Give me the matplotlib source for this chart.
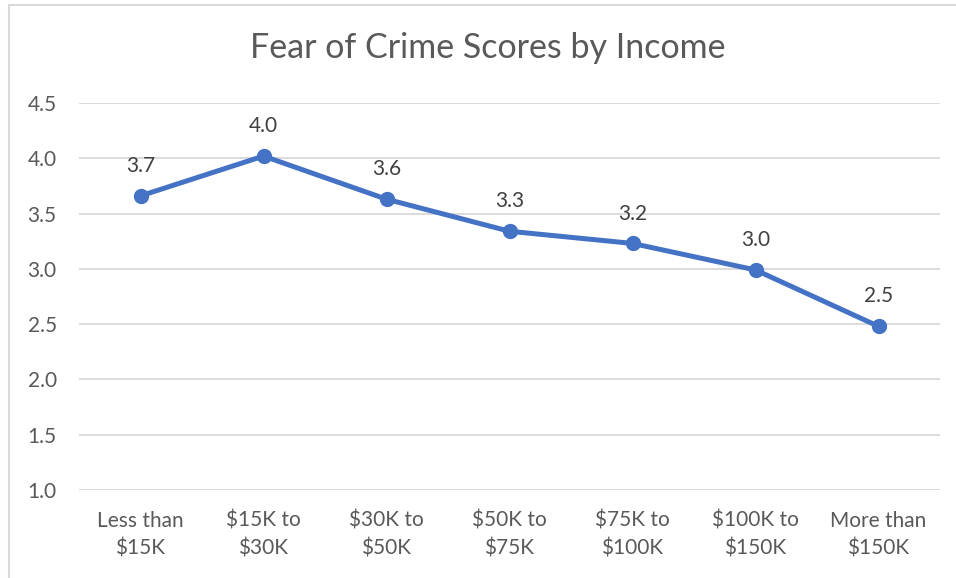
import matplotlib.pyplot as plt
from matplotlib.lines import Line2D

plt.rcParams['font.family'] = ['Lato', 'DejaVu Sans']

income_groups = ["Less than\n$15K", "$15K to\n$30K", "$30K to\n$50K", "$50K to\n$75K",
                 "$75K to\n$100K", "$100K to\n$150K", "More than\n$150K"]
fear_scores = [3.66, 4.02, 3.63, 3.34, 3.23, 2.99, 2.48]
y_ticks = [1.0, 1.5, 2.0, 2.5, 3.0, 3.5, 4.0, 4.5]

line_color = "#4472C4"
grid_color = "#D9D9D9"
text_color = "#595959"

fig = plt.figure(figsize=(9.56, 5.78), dpi=100)
ax = fig.add_axes([79 / 956, 1 - 490 / 578, (940 - 79) / 956, (490 - 103) / 578])

x = list(range(len(fear_scores)))
ax.plot(x, fear_scores, color=line_color, linewidth=3.6, marker="o",
        markersize=10, zorder=3, solid_capstyle="round")

for xi, v in zip(x, fear_scores):
    ax.annotate(f"{v:.1f}", (xi, v), xytext=(0, 21.5), textcoords="offset points",
                ha="center", va="center", fontsize=15, color="#404040")

ax.set_xlim(-0.5, len(fear_scores) - 0.5)
ax.set_ylim(1.0, 4.5)
ax.set_yticks(y_ticks)
ax.set_yticklabels([f"{t:.1f}" for t in y_ticks])
ax.set_xticks(x)
ax.set_xticklabels(income_groups, linespacing=1.45)
ax.grid(axis="y", color=grid_color, linewidth=1.3)
ax.set_axisbelow(True)
for s in ax.spines.values():
    s.set_visible(False)
ax.tick_params(length=0, labelsize=15, colors=text_color)
ax.tick_params(axis="y", pad=16)
ax.tick_params(axis="x", pad=15)

fig.suptitle("Fear of Crime Scores by Income", x=488 / 956, y=1 - 48 / 578,
             va="center", fontsize=24.5, color=text_color)

# chart frame (top and left edges)
fig.add_artist(Line2D([9 / 956, 9 / 956], [0, 1 - 5 / 578], transform=fig.transFigure,
                      color=grid_color, linewidth=1.5))
fig.add_artist(Line2D([9 / 956, 1], [1 - 5 / 578, 1 - 5 / 578], transform=fig.transFigure,
                      color=grid_color, linewidth=1.5))

fig.savefig("out.png", dpi=100)
